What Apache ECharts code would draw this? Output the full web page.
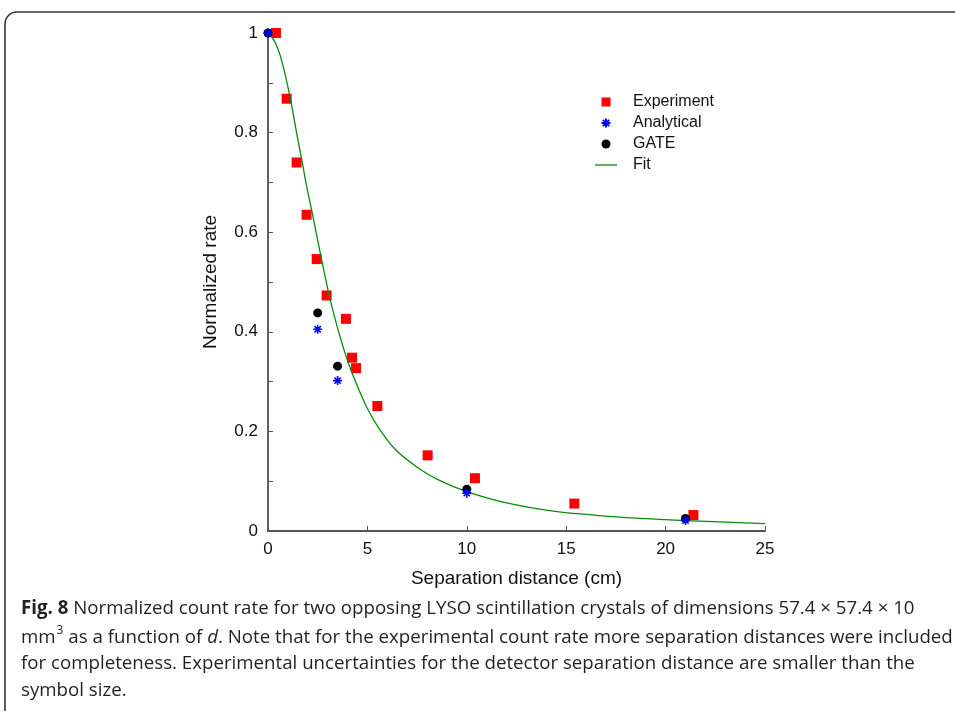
<!DOCTYPE html>
<html>
<head>
<meta charset="utf-8">
<script src="https://cdn.jsdelivr.net/npm/echarts@6/dist/echarts.min.js"></script>
<style>
  html, body { margin: 0; padding: 0; background: #fff; }
  #main { width: 955px; height: 711px; }
</style>
</head>
<body>
<div id="main"></div>
<script type="text/javascript">
    // experiment (red squares)
    var expX = [0.4, 0.94, 1.44, 1.94, 2.45, 2.95, 3.92, 4.23, 4.43, 5.5, 8.03, 10.41, 15.41, 21.4];
    var expY = [1.0, 0.868, 0.740, 0.635, 0.546, 0.473, 0.426, 0.348, 0.327, 0.251, 0.152, 0.106, 0.055, 0.032];
    // simulated distances (analytical + GATE)
    var simX = [0, 2.5, 3.5, 10, 21];
    var anaY = [1.0, 0.405, 0.302, 0.076, 0.021];
    var gateY = [1.0, 0.438, 0.331, 0.084, 0.025];
    // fit curve
    var fitX = [0, 0.35, 0.7, 1.12, 1.46, 1.71, 1.93, 2.28, 2.7, 3.12, 3.54, 3.96, 4.38, 4.96, 5.63, 6.47, 7.65, 8.65, 10, 11.83, 14.35, 17.7, 21, 25];
    var fitY = [1.0, 0.982, 0.943, 0.869, 0.795, 0.743, 0.695, 0.628, 0.544, 0.466, 0.402, 0.347, 0.302, 0.249, 0.203, 0.161, 0.124, 0.101, 0.079, 0.058, 0.040, 0.028, 0.021, 0.015];

    function zip(xs, ys) {
        var out = [];
        for (var i = 0; i < xs.length; i++) out.push([xs[i], ys[i]]);
        return out;
    }

    var asterisk = 'path://M0,-5L0,5M-5,0L5,0M-3.5,-3.5L3.5,3.5M-3.5,3.5L3.5,-3.5';
    var square = 'path://M0,0L10,0L10,10L0,10Z';
    var capFont = '"Open Sans", sans-serif';
    var capColor = '#231f20';
    var capSize = 18.7;

    var myChart = echarts.init(document.getElementById('main'));
    var myOption = {
        animation: false,
        backgroundColor: '#fff',
        grid: { left: 268, right: 190, top: 33, bottom: 180 },
        legend: {
            orient: 'vertical',
            left: 590,
            top: 89,
            itemWidth: 22,
            itemHeight: 9,
            itemGap: 5,
            textStyle: { fontFamily: 'Liberation Sans, Arial', fontSize: 16, color: '#111', lineHeight: 16, padding: [0, 0, 0, 11] },
            data: [
                { name: 'Experiment', icon: square },
                { name: 'Analytical' },
                { name: 'GATE' },
                { name: 'Fit', icon: 'path://M0,0L22,0L22,1.3L0,1.3Z' }
            ]
        },
        xAxis: [{
            type: 'value',
            min: 0, max: 25, interval: 5,
            name: 'Separation distance (cm)',
            nameLocation: 'middle',
            nameGap: 38,
            nameTextStyle: { fontFamily: 'Liberation Sans, Arial', fontSize: 19, color: '#111' },
            axisLine: { lineStyle: { color: '#222', width: 1.5 } },
            axisTick: { inside: true, length: 5, lineStyle: { color: '#555' } },
            axisLabel: { fontFamily: 'Liberation Sans, Arial', fontSize: 17, color: '#111', margin: 10 },
            splitLine: { show: false }
        }, {
            type: 'value', position: 'top',
            min: 0, max: 25,
            axisLine: { show: true, lineStyle: { color: '#555', width: 1.5 } },
            axisTick: { show: false }, axisLabel: { show: false }, splitLine: { show: false }
        }],
        yAxis: [{
            type: 'value',
            min: 0, max: 1, interval: 0.2,
            name: 'Normalized rate',
            nameLocation: 'middle',
            nameGap: 48,
            nameTextStyle: { fontFamily: 'Liberation Sans, Arial', fontSize: 19, color: '#111' },
            axisLine: { show: true, lineStyle: { color: '#666', width: 1.5 } },
            axisTick: { inside: true, length: 5, lineStyle: { color: '#555' } },
            minorTick: { show: true, splitNumber: 2, length: 5, lineStyle: { color: '#555' } },
            axisLabel: { fontFamily: 'Liberation Sans, Arial', fontSize: 17, color: '#111', margin: 10 },
            splitLine: { show: false }
        }, {
            type: 'value', position: 'right',
            min: 0, max: 1,
            axisLine: { show: true, lineStyle: { color: '#555', width: 1.5 } },
            axisTick: { show: false }, axisLabel: { show: false }, splitLine: { show: false }
        }],
        series: [
            {
                name: 'Experiment', type: 'scatter',
                symbol: 'rect', symbolSize: 10,
                itemStyle: { color: '#ff0000', opacity: 1 },
                data: zip(expX, expY), z: 2
            },
            {
                name: 'Fit', type: 'line',
                showSymbol: false, symbol: 'none', smooth: 0.3,
                lineStyle: { color: '#0a8a0a', width: 1.3 },
                itemStyle: { color: '#0a8a0a' },
                data: zip(fitX, fitY), z: 3
            },
            {
                name: 'GATE', type: 'scatter',
                symbol: 'circle', symbolSize: 9,
                itemStyle: { color: '#000', opacity: 1 },
                data: zip(simX, gateY), z: 4
            },
            {
                name: 'Analytical', type: 'scatter',
                symbol: asterisk, symbolSize: 9,
                itemStyle: { color: '#0000ff', borderColor: '#0000ff', borderWidth: 1.6, opacity: 1 },
                data: zip(simX, anaY), z: 5
            }
        ],
        graphic: [
            {
                type: 'rect', silent: true,
                shape: { x: 5, y: 12, width: 1000, height: 760, r: 12 },
                style: { fill: 'none', stroke: '#333', lineWidth: 1.6 }
            },
            {
                type: 'text', left: 21, top: 599,
                style: {
                    text: '{b|Fig. 8} Normalized count rate for two opposing LYSO scintillation crystals of dimensions 57.4 × 57.4 × 10',
                    font: capSize + 'px ' + capFont, fill: capColor,
                    rich: { b: { fontFamily: 'Open Sans', fontSize: capSize, fontWeight: 'bold', fill: capColor } }
                }
            },
            {
                type: 'text', left: 21, top: 625,
                style: {
                    text: 'mm{s|3} as a function of {i|d}. Note that for the experimental count rate more separation distances were included',
                    font: capSize + 'px ' + capFont, fill: capColor,
                    rich: {
                        s: { fontFamily: 'Open Sans', fontSize: 12, fill: capColor, padding: [0, 0, 13, 1] },
                        i: { fontFamily: 'Open Sans', fontSize: capSize, fontStyle: 'italic', fill: capColor }
                    }
                }
            },
            {
                type: 'text', left: 21, top: 654,
                style: {
                    text: 'for completeness. Experimental uncertainties for the detector separation distance are smaller than the',
                    font: capSize + 'px ' + capFont, fill: capColor
                }
            },
            {
                type: 'text', left: 21, top: 681,
                style: { text: 'symbol size.', font: capSize + 'px ' + capFont, fill: capColor }
            }
        ]
    };
    myChart.setOption(myOption);
</script>
</body>
</html>
